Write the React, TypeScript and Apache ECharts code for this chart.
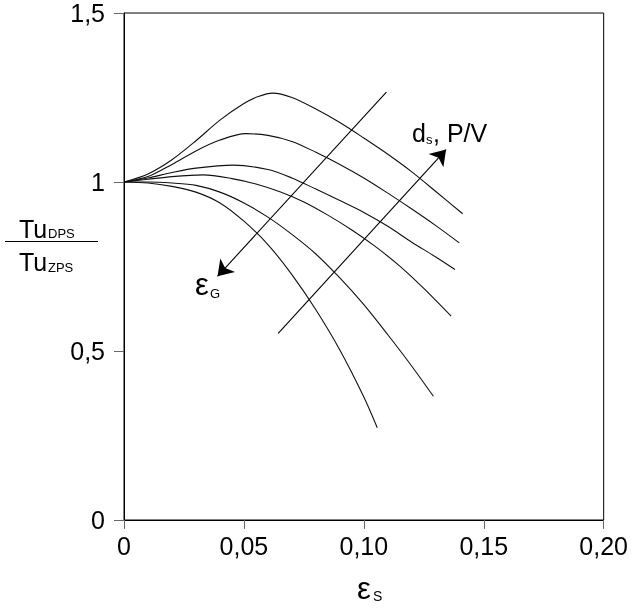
import { useEffect, useRef } from 'react';
import * as echarts from 'echarts';

const xTickLabels = ['0', '0,05', '0,10', '0,15', '0,20'];
const yTickLabels = ['0', '0,5', '1', '1,5'];

const curve1 = [[0, 1], [0.01, 1.024], [0.02, 1.066], [0.03, 1.122], [0.04, 1.183], [0.05, 1.232], [0.056, 1.253], [0.062, 1.263], [0.07, 1.25], [0.08, 1.216], [0.09, 1.176], [0.1, 1.13], [0.11, 1.082], [0.12, 1.03], [0.13, 0.972], [0.1412, 0.906]];
const curve2 = [[0, 1], [0.01, 1.016], [0.02, 1.052], [0.03, 1.092], [0.04, 1.124], [0.0508, 1.143], [0.06, 1.138], [0.07, 1.12], [0.08, 1.088], [0.09, 1.052], [0.1, 1.012], [0.11, 0.967], [0.12, 0.92], [0.13, 0.871], [0.1398, 0.82]];
const curve3 = [[0, 1], [0.01, 1.012], [0.02, 1.028], [0.03, 1.041], [0.0455, 1.05], [0.06, 1.037], [0.07, 1.012], [0.08, 0.979], [0.09, 0.945], [0.1, 0.91], [0.11, 0.869], [0.12, 0.822], [0.13, 0.778], [0.138, 0.741]];
const curve4 = [[0, 1], [0.01, 1.008], [0.02, 1.016], [0.033, 1.021], [0.045, 1.01], [0.055, 0.994], [0.065, 0.971], [0.075, 0.941], [0.085, 0.902], [0.095, 0.858], [0.105, 0.808], [0.115, 0.751], [0.125, 0.685], [0.1364, 0.603]];
const curve5 = [[0, 1], [0.01, 1.0], [0.02, 0.997], [0.03, 0.99], [0.04, 0.97], [0.05, 0.938], [0.06, 0.896], [0.07, 0.845], [0.08, 0.787], [0.09, 0.716], [0.1, 0.637], [0.11, 0.548], [0.12, 0.455], [0.129, 0.366]];
const curve6 = [[0, 1], [0.01, 0.997], [0.02, 0.987], [0.03, 0.97], [0.04, 0.938], [0.05, 0.884], [0.06, 0.815], [0.07, 0.726], [0.08, 0.622], [0.09, 0.503], [0.1, 0.364], [0.1056, 0.273]];

const arrowEpsG = [[0.1094, 1.2657], [0.039, 0.721]];
const arrowDsPV = [[0.0643, 0.552], [0.1343, 1.096]];

export default function App() {
  const ref = useRef<HTMLDivElement>(null);
  useEffect(() => {
    const chart = echarts.init(ref.current!, null, { renderer: 'svg' });
    const font = '"Liberation Sans", Arial, sans-serif';
    const curves = [curve1, curve2, curve3, curve4, curve5, curve6];
    const txt = (x: number, y: number, text: string, size: number) => ({
      type: 'text',
      x,
      y,
      silent: true,
      style: { text, fontSize: size, fontFamily: font, fill: '#000', align: 'left', verticalAlign: 'bottom' },
    });
    chart.setOption({
      animation: false,
      grid: { left: 124, right: 24, top: 13, bottom: 90, show: true, borderColor: '#000', borderWidth: 1 },
      xAxis: {
        type: 'value', min: 0, max: 0.2, interval: 0.05,
        axisLine: { show: true, onZero: false, lineStyle: { color: '#000', width: 1 } },
        axisTick: { show: true, inside: false, length: 9, lineStyle: { color: '#666' } },
        splitLine: { show: false },
        axisLabel: { margin: 13, fontSize: 25, color: '#000', fontFamily: font, formatter: (v: number) => xTickLabels[Math.round(v / 0.05)] },
      },
      yAxis: {
        type: 'value', min: 0, max: 1.5, interval: 0.5,
        axisLine: { show: true, onZero: false, lineStyle: { color: '#000', width: 1 } },
        axisTick: { show: true, inside: false, length: 10, lineStyle: { color: '#666' } },
        splitLine: { show: false },
        axisLabel: { margin: 19, fontSize: 25, color: '#000', fontFamily: font, formatter: (v: number) => yTickLabels[Math.round(v / 0.5)] },
      },
      series: [
        ...curves.map((c) => ({ type: 'line', data: c, smooth: 0.3, symbol: 'none', silent: true, lineStyle: { color: '#111', width: 1.1 } })),
        {
          type: 'lines', coordinateSystem: 'cartesian2d', silent: true,
          data: [{ coords: arrowEpsG }, { coords: arrowDsPV }],
          symbol: ['none', 'arrow'], symbolSize: 15,
          lineStyle: { color: '#000', width: 1.1, opacity: 1 },
        },
      ],
      graphic: [
        { type: 'line', silent: true, shape: { x1: 5, y1: 241.5, x2: 98, y2: 241.5 }, style: { stroke: '#000', lineWidth: 1.2 } },
        txt(19, 241, 'Tu', 25),
        txt(48, 240, 'DPS', 13),
        txt(19, 274, 'Tu', 25),
        txt(48, 274, 'ZPS', 13),
        txt(357, 604, 'ε', 31),
        txt(373, 603, 'S', 14),
        txt(195, 300, 'ε', 31),
        txt(210, 300, 'G', 13),
        txt(412, 145, 'd', 25),
        txt(426, 146, 's', 13),
        txt(433, 145, ', P/V', 25),
      ],
    });
    return () => chart.dispose();
  }, []);
  return <div ref={ref} style={{ position: 'fixed', left: 0, top: 0, width: 631, height: 610 }} />;
}
